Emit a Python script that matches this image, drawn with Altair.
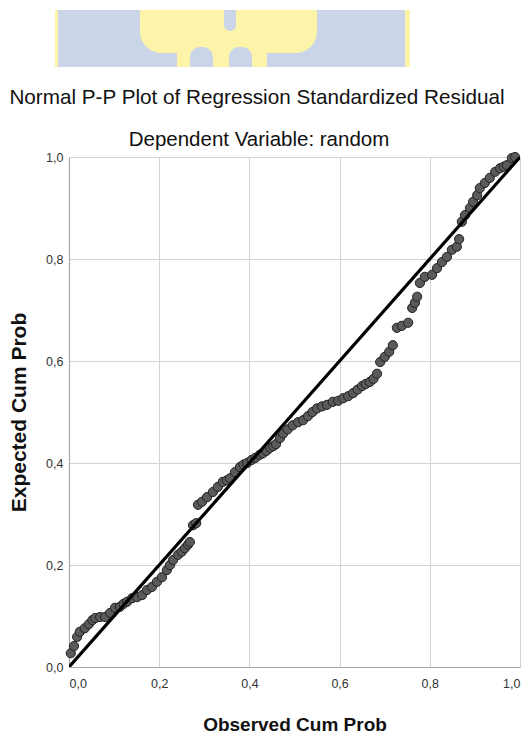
import altair as alt
import pandas as pd

# ---- data ----
obs_cum_prob = [
    0.004, 0.011, 0.018, 0.024, 0.035, 0.044, 0.052, 0.058, 0.069, 0.080,
    0.091, 0.102, 0.113, 0.121, 0.129, 0.140, 0.151, 0.162, 0.173, 0.184,
    0.195, 0.206, 0.217, 0.224, 0.231, 0.242, 0.250, 0.257, 0.264, 0.268,
    0.275, 0.282, 0.286, 0.295, 0.306, 0.319, 0.330, 0.341, 0.350, 0.357,
    0.368, 0.379, 0.387, 0.395, 0.405, 0.413, 0.423, 0.430, 0.438, 0.446,
    0.453, 0.459, 0.468, 0.475, 0.485, 0.496, 0.508, 0.519, 0.530, 0.540,
    0.550, 0.561, 0.572, 0.585, 0.597, 0.608, 0.619, 0.630, 0.640, 0.650,
    0.658, 0.667, 0.675, 0.683, 0.690, 0.700, 0.710, 0.718, 0.727, 0.738,
    0.752, 0.761, 0.767, 0.772, 0.778, 0.789, 0.805, 0.816, 0.827, 0.838,
    0.849, 0.860, 0.865, 0.871, 0.878, 0.889, 0.896, 0.905, 0.911, 0.922,
    0.933, 0.945, 0.956, 0.964, 0.971, 0.982, 0.989,
]
exp_cum_prob = [
    0.027, 0.041, 0.059, 0.069, 0.076, 0.084, 0.092, 0.096, 0.098, 0.098,
    0.106, 0.116, 0.118, 0.124, 0.128, 0.135, 0.137, 0.141, 0.151, 0.157,
    0.167, 0.176, 0.190, 0.200, 0.210, 0.220, 0.226, 0.233, 0.240, 0.245,
    0.278, 0.282, 0.318, 0.324, 0.333, 0.343, 0.353, 0.363, 0.366, 0.370,
    0.382, 0.392, 0.397, 0.400, 0.406, 0.410, 0.416, 0.419, 0.424, 0.430,
    0.433, 0.437, 0.449, 0.458, 0.466, 0.474, 0.480, 0.484, 0.492, 0.500,
    0.507, 0.511, 0.514, 0.520, 0.522, 0.527, 0.531, 0.537, 0.544, 0.551,
    0.555, 0.559, 0.565, 0.575, 0.598, 0.608, 0.618, 0.631, 0.665, 0.669,
    0.675, 0.704, 0.714, 0.726, 0.753, 0.765, 0.769, 0.782, 0.794, 0.804,
    0.818, 0.824, 0.839, 0.873, 0.886, 0.900, 0.912, 0.925, 0.939, 0.949,
    0.959, 0.971, 0.978, 0.981, 0.984, 0.998, 1.000,
]
ref_line = [0.0, 1.0]
tick_values = [0.0, 0.2, 0.4, 0.6, 0.8, 1.0]
title_text = "Normal P-P Plot of Regression Standardized Residual"
subtitle_text = "Dependent Variable: random"
x_title = "Observed Cum Prob"
y_title = "Expected Cum Prob"

FONT = "Liberation Sans"

points_df = pd.DataFrame({"obs": obs_cum_prob, "exp": exp_cum_prob})
line_df = pd.DataFrame({"obs": ref_line, "exp": ref_line})

label_expr = "replace(format(datum.value, '.1f'), '.', ',')"

x_enc = alt.X(
    "obs:Q",
    scale=alt.Scale(domain=[0, 1], nice=False, zero=False),
    axis=alt.Axis(
        values=tick_values, labelExpr=label_expr, title=x_title,
        labelPadding=10, titleY=63, titleBaseline="alphabetic",
        titleFontSize=19,
    ),
)
y_enc = alt.Y(
    "exp:Q",
    scale=alt.Scale(domain=[0, 1], nice=False, zero=False),
    axis=alt.Axis(
        values=tick_values, labelExpr=label_expr, title=y_title,
        labelPadding=6, titleAngle=270, titleX=-44, titleY=255,
        titleBaseline="alphabetic", titleAlign="center", titleFontSize=21,
    ),
)

points = alt.Chart(points_df).mark_point(
    shape="circle", filled=True, size=85, fill="#5a5a5a",
    stroke="#222222", strokeWidth=1, opacity=1, fillOpacity=1,
).encode(x=x_enc, y=y_enc)

line = alt.Chart(line_df).mark_line(
    color="#000000", strokeWidth=3.2, clip=True,
).encode(x="obs:Q", y="exp:Q")

# ---- faint logo watermark above the title (decoration) ----
one = line_df.head(1)
wm_blue = alt.Chart(one).mark_rect(color="#cad6e8").encode(
    x=alt.value(-14), x2=alt.value(341), y=alt.value(-147), y2=alt.value(-90)
)
wm_yellow_bowl = alt.Chart(one).mark_rect(
    color="#fdf3a9", cornerRadiusBottomLeft=45, cornerRadiusBottomRight=45
).encode(x=alt.value(71), x2=alt.value(248), y=alt.value(-147), y2=alt.value(-104))
wm_yellow_base = alt.Chart(one).mark_rect(color="#fdf3a9").encode(
    x=alt.value(108), x2=alt.value(198), y=alt.value(-122), y2=alt.value(-90)
)
wm_notch = alt.Chart(one).mark_rect(
    color="#cad6e8", cornerRadiusBottomLeft=6, cornerRadiusBottomRight=6
).encode(x=alt.value(155), x2=alt.value(167), y=alt.value(-147), y2=alt.value(-126))
wm_dome1 = alt.Chart(one).mark_rect(
    color="#cad6e8", cornerRadiusTopLeft=11, cornerRadiusTopRight=11
).encode(x=alt.value(121), x2=alt.value(144), y=alt.value(-110), y2=alt.value(-90))
wm_dome2 = alt.Chart(one).mark_rect(
    color="#cad6e8", cornerRadiusTopLeft=11, cornerRadiusTopRight=11
).encode(x=alt.value(160), x2=alt.value(183), y=alt.value(-110), y2=alt.value(-90))
wm_edge_l = alt.Chart(one).mark_rect(color="#fdf3a9").encode(
    x=alt.value(-14), x2=alt.value(-11), y=alt.value(-147), y2=alt.value(-90)
)
wm_edge_r = alt.Chart(one).mark_rect(color="#fdf3a9").encode(
    x=alt.value(336), x2=alt.value(341), y=alt.value(-147), y2=alt.value(-90)
)

title_mark = alt.Chart(one).mark_text(
    text=title_text, font=FONT, fontSize=20.7, color="#111111",
    align="center", baseline="alphabetic",
).encode(x=alt.value(188), y=alt.value(-53))
subtitle_mark = alt.Chart(one).mark_text(
    text=subtitle_text, font=FONT, fontSize=20.5, color="#111111",
    align="center", baseline="alphabetic",
).encode(x=alt.value(190), y=alt.value(-11))

chart = alt.layer(
    wm_blue, wm_yellow_bowl, wm_yellow_base, wm_notch, wm_dome1, wm_dome2,
    wm_edge_l, wm_edge_r, title_mark, subtitle_mark, points, line,
).properties(
    width=451, height=510,
    autosize=alt.AutoSizeParams(type="none"),
    padding={"left": 61, "top": 149, "right": 3, "bottom": 72},
).configure_view(
    stroke=None
).configure_axis(
    grid=True, gridColor="#d3d3d3", gridWidth=1,
    domainColor="#a9a9a9", domainWidth=1.2,
    ticks=False, tickSize=0,
    labelFont=FONT, labelFontSize=12.5, labelColor="#333333",
    titleFont=FONT, titleFontWeight="bold", titleColor="#111111",
)

chart.save("out.html", embed_options={"renderer": "svg", "actions": False})
